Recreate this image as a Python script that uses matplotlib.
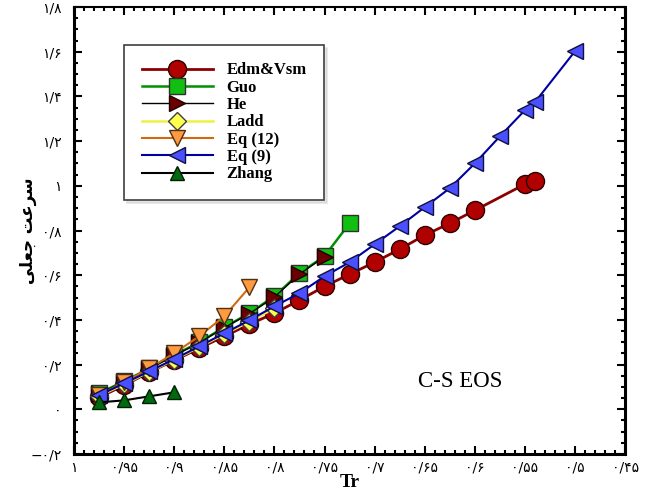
import numpy as np
import matplotlib
matplotlib.use('Agg')
matplotlib.rcParams.update({'font.size': 10})
import matplotlib.pyplot as plt
from matplotlib.ticker import AutoMinorLocator

# reduced temperature for each model
tr_edm = [0.975, 0.95, 0.925, 0.90, 0.875, 0.85, 0.825, 0.80, 0.775, 0.75,
          0.725, 0.70, 0.675, 0.65, 0.625, 0.60, 0.55, 0.54]
v_edm = [0.054, 0.107, 0.166, 0.219, 0.273, 0.327, 0.380, 0.430, 0.488, 0.550,
         0.604, 0.658, 0.716, 0.779, 0.832, 0.890, 1.007, 1.020]

tr_guo = [0.975, 0.95, 0.925, 0.90, 0.875, 0.85, 0.825, 0.80, 0.775, 0.75, 0.725]
v_guo = [0.072, 0.125, 0.183, 0.242, 0.300, 0.367, 0.430, 0.506, 0.609, 0.685, 0.832]

tr_he = [0.975, 0.95, 0.925, 0.90, 0.875, 0.85, 0.825, 0.80, 0.775, 0.75]
v_he = [0.070, 0.123, 0.181, 0.240, 0.298, 0.365, 0.428, 0.502, 0.605, 0.682]

tr_ladd = [0.975, 0.95, 0.925, 0.90, 0.875, 0.85, 0.825, 0.80]
v_ladd = [0.060, 0.112, 0.168, 0.222, 0.279, 0.336, 0.392, 0.452]

tr_eq12 = [0.975, 0.95, 0.925, 0.90, 0.875, 0.85, 0.825]
v_eq12 = [0.063, 0.121, 0.183, 0.251, 0.327, 0.416, 0.546]

tr_eq9 = [0.975, 0.95, 0.925, 0.90, 0.875, 0.85, 0.825, 0.80, 0.775, 0.75,
          0.725, 0.70, 0.675, 0.65, 0.625, 0.60, 0.575, 0.55, 0.54, 0.50]
v_eq9 = [0.063, 0.116, 0.170, 0.224, 0.282, 0.340, 0.398, 0.461, 0.519, 0.595,
         0.658, 0.738, 0.819, 0.904, 0.989, 1.100, 1.221, 1.338, 1.374, 1.602]

tr_zhang = [0.975, 0.95, 0.925, 0.90]
v_zhang = [0.031, 0.040, 0.058, 0.076]

# persian tick labels
xticks = [1.0, 0.95, 0.90, 0.85, 0.80, 0.75, 0.70, 0.65, 0.60, 0.55, 0.50, 0.45]
xlabels = ['۱', '۰/۹۵', '۰/۹', '۰/۸۵', '۰/۸', '۰/۷۵', '۰/۷', '۰/۶۵', '۰/۶',
           '۰/۵۵', '۰/۵', '۰/۴۵']
yticks = [-0.2, 0.0, 0.2, 0.4, 0.6, 0.8, 1.0, 1.2, 1.4, 1.6, 1.8]
ylabels = ['−۰/۲', '۰', '۰/۲', '۰/۴', '۰/۶', '۰/۸', '۱', '۱/۲', '۱/۴', '۱/۶', '۱/۸']
# "سرعت جعلی" in shaped presentation forms, visual order
ytitle = '\uFEF0\uFEE0\uFECC\uFE9F \uFE96\uFECB\uFEAE\uFEB3'

fig = plt.figure(figsize=(6.46, 4.93), dpi=100)
ax = fig.add_axes([0.1146, 0.0791, 0.853, 0.9067])

ax.plot(tr_edm, v_edm, '-o', color='#8B0000', lw=2, mfc='#B00000', mec='#300000',
        mew=1, ms=13, label='Edm&Vsm')
ax.plot(tr_guo, v_guo, '-s', color='#009000', lw=1.8, mfc='#10C010', mec='#303030',
        mew=1, ms=11, label='Guo')
ax.plot(tr_he, v_he, '->', color='black', lw=1, mfc='#6A0000', mec='#200000',
        mew=1, ms=11, label='He')
ax.plot(tr_ladd, v_ladd, '-D', color='#F0F040', lw=1.8, mfc='#FFFF50', mec='#404040',
        mew=1, ms=9, label='Ladd')
ax.plot(tr_eq12, v_eq12, '-v', color='#D06A10', lw=1.5, mfc='#FF9A40', mec='#503010',
        mew=1, ms=11, label='Eq (12)')
ax.plot(tr_eq9, v_eq9, '-<', color='#0000A0', lw=1.5, mfc='#4A50FF', mec='#101040',
        mew=1, ms=11, label='Eq (9)')
ax.plot(tr_zhang, v_zhang, '-^', color='black', lw=1.5, mfc='#006A10', mec='#002000',
        mew=1, ms=10, label='Zhang')

ax.set_xlim(1.0, 0.45)
ax.set_ylim(-0.2, 1.8)
ax.set_xticks(xticks)
ax.set_xticklabels(xlabels, fontsize=10)
ax.set_yticks(yticks)
ax.set_yticklabels(ylabels, fontsize=10)
ax.xaxis.set_minor_locator(AutoMinorLocator(5))
ax.yaxis.set_minor_locator(AutoMinorLocator(4))
ax.tick_params(which='both', direction='in', top=True, right=True, width=1.5)
ax.tick_params(which='major', length=6)
ax.tick_params(axis='x', which='major', pad=5)
ax.tick_params(axis='y', which='major', pad=9)
ax.tick_params(which='minor', length=3)
for s in ax.spines.values():
    s.set_linewidth(2.2)
ax.spines['top'].set_linewidth(1.5)

ax.set_xlabel('Tr', family='Liberation Serif', fontweight='bold', fontsize=14, labelpad=-1)
ax.set_ylabel(ytitle, family='DejaVu Sans', fontweight='bold', fontsize=12, labelpad=-5)

ax.text(0.70, 0.163, 'C-S EOS', transform=ax.transAxes, family='Liberation Serif',
        fontsize=16.5, ha='center', va='center')

leg = ax.legend(loc='upper left', bbox_to_anchor=(0.0907, 0.915), borderaxespad=0,
                handlelength=4.3, prop={'family': 'Liberation Serif', 'weight': 'bold', 'size': 12},
                fancybox=False, edgecolor='#404040', framealpha=1, labelspacing=0.08,
                borderpad=1.05, handletextpad=0.8, shadow={'color': '0.8'})
leg.get_frame().set_linewidth(1.2)

fig.savefig('out.png', dpi=100)
